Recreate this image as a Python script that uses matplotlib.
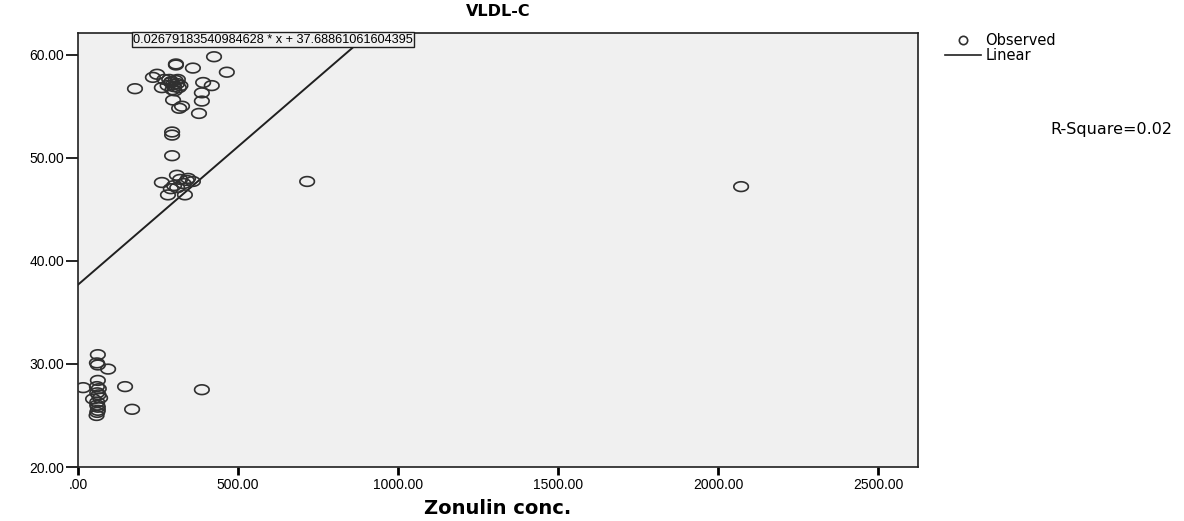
import numpy as np
import matplotlib
matplotlib.use("Agg")
from matplotlib import pyplot as plt
from matplotlib.path import Path
from matplotlib.lines import Line2D

plt.rcParams['font.family'] = ['Liberation Sans', 'DejaVu Sans']

# observed points (Zonulin conc., VLDL-C)
zonulin = [425, 306, 306, 359, 465, 178, 247, 297, 290, 300, 310, 285, 295, 305, 315, 320,
           280, 292, 302, 312, 391, 418, 387, 387, 297, 325, 316, 378, 234, 262, 270,
           294, 294, 294, 319, 262, 281, 334, 359, 309, 344, 300, 330, 290, 340, 310,
           716, 2072,
           62, 59, 62, 94, 62, 16, 59, 65, 147, 60, 47, 69, 60, 62, 58, 60, 62, 60, 64,
           169, 387]
vldl = [59.8, 59.1, 59.0, 58.7, 58.3, 56.7, 58.1, 57.1, 57.3, 56.9, 57.2, 57.6, 56.6, 57.5, 56.8, 57.0,
        57.0, 57.4, 56.5, 57.6, 57.3, 57.0, 56.3, 55.5, 55.6, 55.0, 54.8, 54.3, 57.8, 56.8, 57.6,
        52.5, 52.2, 50.2, 47.9, 47.6, 46.4, 46.4, 47.7, 48.3, 48.0, 47.3, 47.5, 47.0, 47.8, 47.1,
        47.7, 47.2,
        30.9, 30.1, 29.9, 29.5, 28.4, 27.7, 27.8, 27.6, 27.8, 27.2, 26.6, 26.7, 26.0, 25.5, 25.0, 25.3, 25.8, 26.3, 27.0,
        25.6, 27.5]

slope = 0.02679183540984628
intercept = 37.68861061604395

xticks = [0, 500, 1000, 1500, 2000, 2500]
xtick_labels = [".00", "500.00", "1000.00", "1500.00", "2000.00", "2500.00"]
yticks = [20, 30, 40, 50, 60]
ytick_labels = ["20.00", "30.00", "40.00", "50.00", "60.00"]

# wide ellipse marker like SPSS
t = np.linspace(0, 2 * np.pi, 40)
ellipse = Path(np.column_stack([1.5 * np.cos(t), np.sin(t)]))

fig = plt.figure(figsize=(11.84, 5.21), dpi=100)
ax = fig.add_axes([0.0659, 0.1036, 0.7095, 0.833])
ax.set_facecolor("#f0f0f0")

ax.scatter(zonulin, vldl, marker=ellipse, s=110, facecolors="none",
           edgecolors="#303030", linewidths=1.2, zorder=3)

xs = np.array([0, 2625])
ax.plot(xs, slope * xs + intercept, color="#202020", lw=1.4, zorder=2)

ax.set_xlim(0, 2625)
ax.set_ylim(20, 62.1)
ax.set_xticks(xticks)
ax.set_xticklabels(xtick_labels)
ax.set_yticks(yticks)
ax.set_yticklabels(ytick_labels)
ax.tick_params(axis="y", direction="out", length=9, width=1.2, labelsize=10, pad=1)
ax.tick_params(axis="x", direction="out", length=6, width=2, labelsize=10, pad=2)
for s in ax.spines.values():
    s.set_linewidth(1.2)
    s.set_color("#202020")

ax.set_title("VLDL-C", fontsize=11.5, fontweight="bold", pad=12, family="DejaVu Sans")
ax.set_xlabel("Zonulin conc.", fontsize=14, fontweight="bold", labelpad=5, family="DejaVu Sans")

ax.text(0.0655, 0.998, "0.02679183540984628 * x + 37.68861061604395", transform=ax.transAxes,
        ha="left", va="top", fontsize=9.2, zorder=5,
        bbox=dict(boxstyle="square,pad=0.12", facecolor="#f0f0f0", edgecolor="#202020", lw=1))

handles = [Line2D([], [], marker="o", ls="none", mfc="none", mec="#303030", ms=6, mew=1.2),
           Line2D([], [], color="#202020", lw=1.2)]
fig.legend(handles, ["Observed", "Linear"], loc="upper left", bbox_to_anchor=(0.793, 0.948),
           frameon=False, handlelength=2.5, handletextpad=0.3, labelspacing=0.0,
           borderaxespad=0, prop={"family": "DejaVu Sans", "size": 10.5})

fig.text(0.887, 0.752, "R-Square=0.02", fontsize=11.5, ha="left", va="center", family="DejaVu Sans")

fig.savefig("out.png", dpi=100)
